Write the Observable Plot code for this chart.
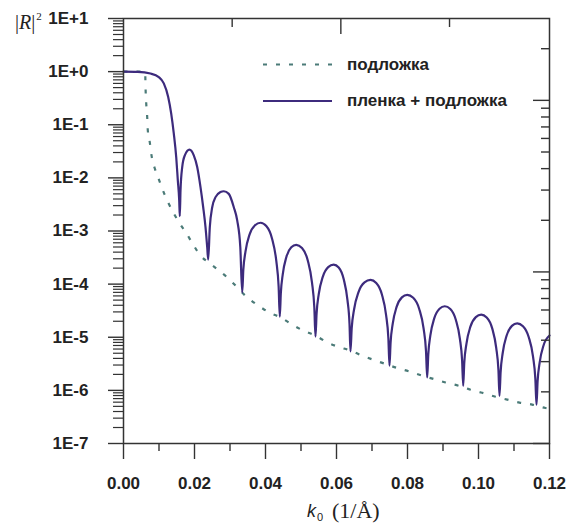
<!DOCTYPE html>
<html><head><meta charset="utf-8">
<script src="https://cdn.jsdelivr.net/npm/d3@7"></script>
<script src="https://cdn.jsdelivr.net/npm/@observablehq/plot@0.6"></script>
<style>
html,body{margin:0;padding:0;background:#fff;}
#chart{position:relative;width:574px;height:528px;}
#chart svg{position:absolute;left:0;top:0;}
</style></head><body><div id="chart"></div>
<script>
// substrate ("подложка") reflectivity
const substrateK = [0, 0.006, 0.0061, 0.00625, 0.0064, 0.00668, 0.00685, 0.00741, 0.00789, 0.00873, 0.00977, 0.0109, 0.01259, 0.01417, 0.01586, 0.01775, 0.0198, 0.02169, 0.02451, 0.02958, 0.03485, 0.038, 0.04113, 0.04423, 0.04752, 0.0507, 0.0541, 0.05738, 0.06037, 0.06394, 0.06724, 0.07051, 0.0738, 0.0771, 0.08037, 0.08414, 0.08732, 0.0907, 0.09445, 0.09775, 0.10104, 0.10479, 0.1081, 0.11155, 0.11513, 0.11887, 0.12];
const substrateR = [1, 1, 0.95, 0.41, 0.253, 0.138, 0.078, 0.0466, 0.0265, 0.0157, 0.0102, 0.0063, 0.00344, 0.00214, 0.00138, 0.0009, 0.00053, 0.000345, 0.000241, 1.27e-4, 5.65e-5, 3.94e-5, 2.91e-5, 2.37e-5, 1.73e-5, 1.33e-5, 1.07e-5, 8.0e-6, 6.65e-6, 5.6e-6, 4.5e-6, 3.74e-6, 3.14e-6, 2.64e-6, 2.28e-6, 1.89e-6, 1.64e-6, 1.41e-6, 1.22e-6, 1.03e-6, 9.0e-7, 7.6e-7, 6.7e-7, 5.9e-7, 5.4e-7, 4.65e-7, 4.5e-7];

// film + substrate ("пленка + подложка") reflectivity
const filmK = [
0, 0.004, 0.0076, 0.00994, 0.01135, 0.01259, 0.01344, 0.01417, 0.01485, 0.0153, 0.01569, 0.01586,
0.01606, 0.01654, 0.01727, 0.01859, 0.0198, 0.02076, 0.02169, 0.02245, 0.0231, 0.02358, 0.02386,
0.02431, 0.02499, 0.02592, 0.02732, 0.02825, 0.02966, 0.03107, 0.03203, 0.0329, 0.03344,
0.03375, 0.03437, 0.0355, 0.03705, 0.03859, 0.04022, 0.04185, 0.04305, 0.0437, 0.04403,
0.04431, 0.04486, 0.04588, 0.04726, 0.04865, 0.05028, 0.05191, 0.0531, 0.05375, 0.05408,
0.05439, 0.055, 0.05613, 0.05766, 0.0592, 0.06062, 0.06204, 0.06309, 0.06366, 0.06394,
0.06428, 0.06496, 0.0662, 0.06789, 0.06958, 0.07119, 0.07279, 0.07397, 0.07461, 0.07493,
0.07523, 0.07583, 0.07693, 0.07842, 0.07992, 0.08161, 0.0833, 0.08454, 0.08521, 0.08555,
0.08585, 0.08644, 0.08753, 0.08902, 0.0905, 0.09206, 0.09361, 0.09476, 0.09538, 0.09569,
0.09599, 0.0966, 0.09772, 0.09924, 0.10076, 0.10231, 0.10386, 0.10499, 0.10561, 0.10592,
0.10622, 0.10682, 0.10791, 0.10941, 0.1109, 0.11253, 0.11416, 0.11536, 0.11601, 0.11634,
0.11664, 0.11724, 0.11834, 0.12];
const filmR = [
1.0, 0.99, 0.92, 0.79, 0.60, 0.333, 0.162, 0.068, 0.0246, 0.009, 0.0038, 0.0019,
0.0058, 0.016, 0.0265, 0.034, 0.0265, 0.016, 0.0067, 0.0028, 0.00118, 0.000495, 0.00029,
0.00118, 0.0028, 0.00434, 0.0054, 0.0056, 0.005, 0.0028, 0.00158, 0.0005, 0.00007,
1.84e-4, 4.15e-4, 8.55e-4, 1.285e-3, 1.43e-3, 1.24e-3, 7.16e-4, 2.70e-4, 8.97e-5, 2.44e-5,
6.62e-5, 1.53e-4, 3.24e-4, 4.93e-4, 5.5e-4, 4.78e-4, 2.79e-4, 1.07e-4, 3.66e-5, 1.03e-5,
2.79e-5, 6.49e-5, 1.37e-4, 2.09e-4, 2.33e-4, 2.05e-4, 1.23e-4, 4.99e-5, 1.81e-5, 5.42e-6,
1.46e-5, 3.37e-5, 7.10e-5, 1.08e-4, 1.20e-4, 1.05e-4, 6.38e-5, 2.62e-5, 9.6e-6, 2.92e-6,
7.78e-6, 1.78e-5, 3.72e-5, 5.62e-5, 6.27e-5, 5.53e-5, 3.41e-5, 1.45e-5, 5.51e-6, 1.75e-6,
4.70e-6, 1.08e-5, 2.26e-5, 3.44e-5, 3.83e-5, 3.40e-5, 2.13e-5, 9.33e-6, 3.68e-6, 1.22e-6,
3.28e-6, 7.53e-6, 1.58e-5, 2.39e-5, 2.67e-5, 2.36e-5, 1.47e-5, 6.31e-6, 2.44e-6, 7.9e-7,
2.16e-6, 5.05e-6, 1.07e-5, 1.64e-5, 1.83e-5, 1.61e-5, 1.00e-5, 4.31e-6, 1.66e-6, 5.37e-7,
1.45e-6, 3.36e-6, 7.08e-6, 1.08e-5];

const yTickValues = [1e1, 1e0, 1e-1, 1e-2, 1e-3, 1e-4, 1e-5, 1e-6, 1e-7];
const yTickLabels = ["1E+1", "1E+0", "1E-1", "1E-2", "1E-3", "1E-4", "1E-5", "1E-6", "1E-7"];
const xTickValues = [0, 0.02, 0.04, 0.06, 0.08, 0.10, 0.12];
const xTickLabels = ["0.00", "0.02", "0.04", "0.06", "0.08", "0.10", "0.12"];
const xMinorTicks = [0.01, 0.03, 0.05, 0.07, 0.09, 0.11];
// secondary (unlabelled) frame axes
const rightDomain = [1, 300];
const rightMajor = [1, 10, 100];
const topDomain = [0, 1.96];
const topMajor = [1];
const topMinor = [0.5, 1.5];

const legendLabels = ["подложка", "пленка + подложка"];
const subColor = "#4b7b78";
const filmColor = "#3d2b7d";
const axisColor = "#333";

const W = 574, H = 528;
const M = {left: 123, right: 25, top: 18, bottom: 85};
const sans = "'Liberation Sans', Arial, sans-serif";
const serif = "'Liberation Serif', 'Times New Roman', serif";

const subData = substrateK.map((k, i) => ({k, r: substrateR[i]}));
const filmData = filmK.map((k, i) => ({k, r: filmR[i]}));

const yMinor = d3.scaleLog().domain([1e-7, 1e1]).ticks().filter(v => !yTickValues.some(t => Math.abs(t - v) / t < 1e-9));
const rightMinor = d3.scaleLog().domain(rightDomain).ticks().filter(v => !rightMajor.includes(v) && v < 300);

const fmtY = v => yTickLabels[yTickValues.findIndex(t => Math.abs(t - v) / t < 1e-9)];
const fmtX = v => xTickLabels[xTickValues.findIndex(t => Math.abs(t - v) < 1e-9)];
const none = () => "";

const main = Plot.plot({
  width: W, height: H,
  marginLeft: M.left, marginRight: M.right, marginTop: M.top, marginBottom: M.bottom,
  style: {fontFamily: sans, background: "transparent", overflow: "visible", color: axisColor},
  x: {domain: [0, 0.12]},
  y: {type: "log", domain: [1e-7, 1e1]},
  marks: [
    Plot.line(subData, {x: "k", y: "r", stroke: subColor, strokeWidth: 2.2, strokeDasharray: "4,9", strokeLinecap: "butt", curve: "monotone-x"}),
    Plot.line(filmData, {x: "k", y: "r", stroke: filmColor, strokeWidth: 2.2, curve: "monotone-x"}),
    Plot.frame({stroke: axisColor, strokeWidth: 1.5}),
    Plot.axisY(yTickValues, {tickSize: 15, tickPadding: 20, tickFormat: fmtY, fontSize: 17, fontWeight: "bold", fill: "#222", stroke: axisColor, strokeWidth: 1.4, label: null}),
    Plot.axisY(yMinor, {tickSize: 10, tickFormat: none, stroke: axisColor, strokeWidth: 1.2, label: null}),
    Plot.axisX(xTickValues, {tickSize: 16, tickPadding: 17, tickFormat: fmtX, fontSize: 17, fontWeight: "bold", fill: "#222", stroke: axisColor, strokeWidth: 1.4, label: null}),
    Plot.axisX(xMinorTicks, {tickSize: 8, tickFormat: none, stroke: axisColor, strokeWidth: 1.4, label: null})
  ]
});

const overlay = Plot.plot({
  width: W, height: H,
  marginLeft: M.left, marginRight: M.right, marginTop: M.top, marginBottom: M.bottom,
  style: {background: "transparent", overflow: "visible", color: axisColor},
  x: {domain: topDomain},
  y: {type: "log", domain: rightDomain},
  marks: [
    Plot.axisY(rightMajor, {anchor: "right", tickSize: 17, dx: -17, tickFormat: none, stroke: axisColor, strokeWidth: 1.4, label: null}),
    Plot.axisY(rightMinor, {anchor: "right", tickSize: 9, dx: -9, tickFormat: none, stroke: axisColor, strokeWidth: 1.4, label: null}),
    Plot.axisX(topMajor, {anchor: "top", tickSize: 15, dy: 15, tickFormat: none, stroke: axisColor, strokeWidth: 1.4, label: null}),
    Plot.axisX(topMinor, {anchor: "top", tickSize: 8, dy: 8, tickFormat: none, stroke: axisColor, strokeWidth: 1.4, label: null})
  ]
});

const chart = document.getElementById("chart");
chart.appendChild(main);
chart.appendChild(overlay);

const svg = d3.select(main);
// legend
const lg = svg.append("g").attr("text-anchor", "start");
lg.append("line").attr("x1", 263).attr("x2", 333).attr("y1", 64.5).attr("y2", 64.5)
  .attr("stroke", subColor).attr("stroke-width", 2.2).attr("stroke-dasharray", "4,9");
lg.append("line").attr("x1", 263).attr("x2", 332).attr("y1", 101).attr("y2", 101)
  .attr("stroke", filmColor).attr("stroke-width", 2.2);
[64.5, 101].forEach((y, i) => {
  lg.append("text").attr("x", 347).attr("y", y).attr("dy", "0.32em")
    .attr("font-family", sans).attr("font-size", 17).attr("font-weight", "bold").attr("fill", "#222")
    .text(legendLabels[i]);
});

// y-axis title |R|^2
const yt = svg.append("text").attr("text-anchor", "start").attr("x", 15).attr("y", 29).attr("font-family", serif).attr("font-size", 20).attr("fill", "#222");
yt.append("tspan").text("|");
yt.append("tspan").attr("font-style", "italic").text("R");
yt.append("tspan").text("|");
yt.append("tspan").attr("font-size", 11).attr("dy", -9).attr("dx", 1).text("2");

// x-axis title k0 (1/Å)
const xt = svg.append("g").attr("text-anchor", "start").attr("fill", "#222");
xt.append("text").attr("x", 307).attr("y", 517).attr("font-family", sans).attr("font-style", "italic").attr("font-size", 18).text("k");
xt.append("text").attr("x", 317).attr("y", 521).attr("font-family", sans).attr("font-size", 11).text("0");
xt.append("text").attr("x", 332).attr("y", 518).attr("font-family", serif).attr("font-size", 22).text("(1/Å)");
</script></body></html>
